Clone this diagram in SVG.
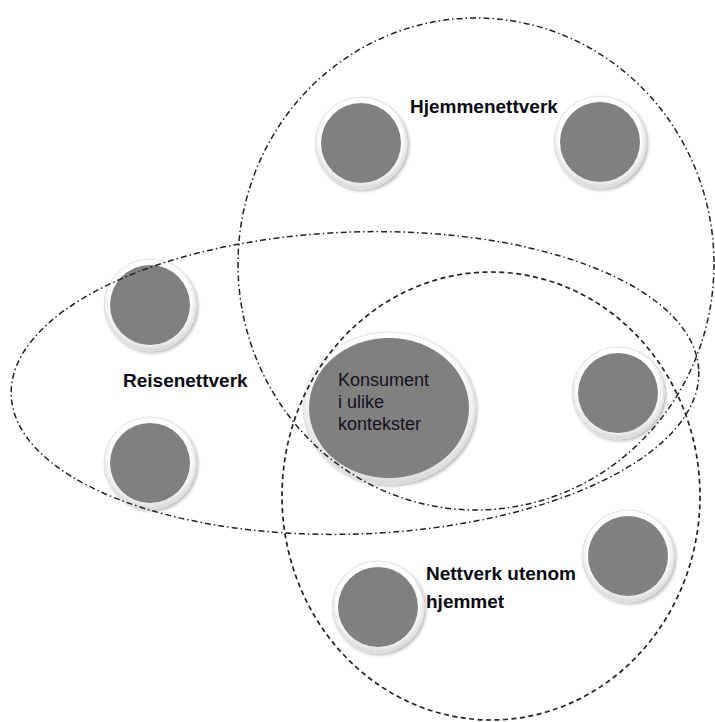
<svg xmlns="http://www.w3.org/2000/svg" width="715" height="722" viewBox="0 0 715 722">
  <defs>
    <radialGradient id="ring" cx="50%" cy="45%" r="55%">
      <stop offset="80%" stop-color="#ffffff"/>
      <stop offset="100%" stop-color="#d6d6d6"/>
    </radialGradient>
    <filter id="sh" x="-20%" y="-20%" width="140%" height="140%">
      <feGaussianBlur in="SourceAlpha" stdDeviation="1.5"/>
      <feOffset dx="1.5" dy="2" result="b"/>
      <feComponentTransfer><feFuncA type="linear" slope="0.25"/></feComponentTransfer>
      <feMerge><feMergeNode/><feMergeNode in="SourceGraphic"/></feMerge>
    </filter>
  </defs>
  <style>
    .ring { fill: url(#ring); stroke: #e2e2e2; stroke-width: 1; filter: url(#sh); }
    .core { fill: #808080; }
    .lbl { font-family: "Liberation Sans", Arial, sans-serif; font-weight: bold; font-size: 19px; fill: #0a0a14; }
    .ctext { font-family: "Liberation Sans", Arial, sans-serif; font-size: 18px; fill: #151020; }
    .dashdot { fill: none; stroke: #222222; stroke-width: 1.5; stroke-dasharray: 6 3 1.5 3; }
    .dashed { fill: none; stroke: #222222; stroke-width: 1.7; stroke-dasharray: 5 3.5; }
  </style>
  <rect width="715" height="722" fill="#ffffff"/>

  <g id="node-home-1"><circle class="ring" cx="361" cy="143" r="46"/><circle class="core" cx="361" cy="143" r="40"/></g>
  <g id="node-home-2"><circle class="ring" cx="600" cy="142" r="46"/><circle class="core" cx="600" cy="142" r="40"/></g>
  <g id="node-travel-1"><circle class="ring" cx="150" cy="305" r="46"/><circle class="core" cx="150" cy="305" r="40"/></g>
  <g id="node-travel-2"><circle class="ring" cx="150" cy="463" r="46"/><circle class="core" cx="150" cy="463" r="40"/></g>
  <g id="node-right"><circle class="ring" cx="618" cy="393" r="46"/><circle class="core" cx="618" cy="393" r="40"/></g>
  <g id="node-away-1"><circle class="ring" cx="378" cy="607" r="46"/><circle class="core" cx="378" cy="607" r="40"/></g>
  <g id="node-away-2"><circle class="ring" cx="628" cy="556" r="46"/><circle class="core" cx="628" cy="556" r="40"/></g>

  <g id="node-consumer">
    <ellipse class="ring" cx="389" cy="408" rx="86" ry="76"/>
    <ellipse class="core" cx="389" cy="408" rx="80" ry="70"/>
    <text class="ctext" x="338" y="386">Konsument</text>
    <text class="ctext" x="338" y="408">i ulike</text>
    <text class="ctext" x="338" y="430">kontekster</text>
  </g>

  <g id="connectors">
    <ellipse id="home-network" class="dashdot" cx="476" cy="264" rx="238" ry="246"/>
    <ellipse id="travel-network" class="dashdot" cx="355" cy="383" rx="344" ry="151" transform="rotate(-2 355 383)"/>
    <ellipse id="away-network" class="dashed" cx="491" cy="496" rx="209" ry="224"/>
  </g>

  <g id="labels">
    <text class="lbl" x="410" y="113">Hjemmenettverk</text>
    <text class="lbl" x="123" y="387">Reisenettverk</text>
    <text class="lbl" x="426" y="580">Nettverk utenom</text>
    <text class="lbl" x="426" y="608">hjemmet</text>
  </g>
</svg>
